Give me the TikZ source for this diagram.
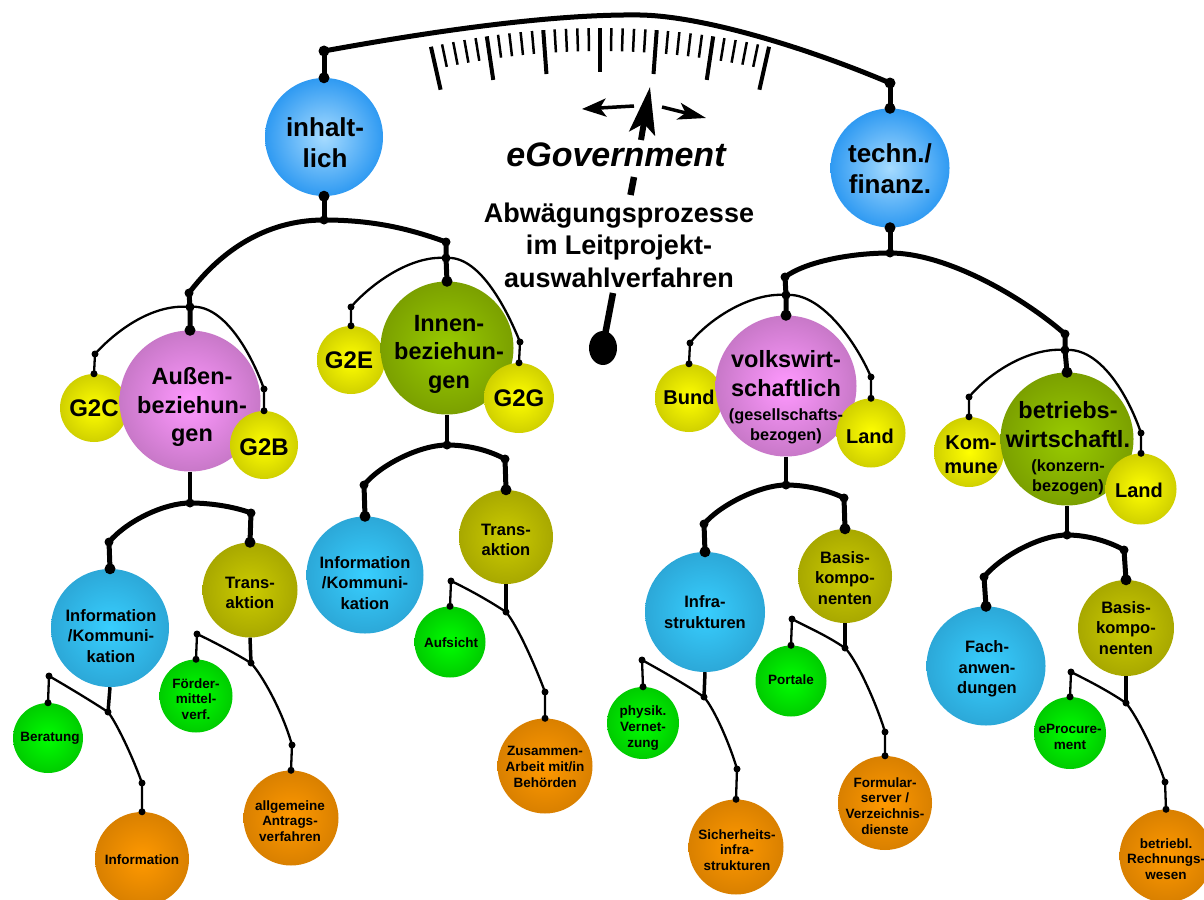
\documentclass[tikz,border=0pt]{standalone}
\usepackage{fontspec}
\setmainfont{Liberation Sans}
\usetikzlibrary{arrows.meta}
\definecolor{blueI}{HTML}{A6DBFF}
\definecolor{blueO}{HTML}{2F9AF2}
\definecolor{cyanI}{HTML}{38CFFF}
\definecolor{cyanO}{HTML}{2CA8D8}
\definecolor{pinkI}{HTML}{FF99FF}
\definecolor{pinkO}{HTML}{C878C8}
\definecolor{oliveI}{HTML}{99CC00}
\definecolor{oliveO}{HTML}{7BA000}
\definecolor{yelI}{HTML}{FFFF00}
\definecolor{yelO}{HTML}{D0D000}
\definecolor{oyI}{HTML}{CCCC00}
\definecolor{oyO}{HTML}{A8A800}
\definecolor{grnI}{HTML}{00FF00}
\definecolor{grnO}{HTML}{00CC00}
\definecolor{orI}{HTML}{FF9900}
\definecolor{orO}{HTML}{D98000}
\newcommand\fsA{\fontsize{26}{31}\selectfont}
\newcommand\fsB{\fontsize{23.5}{28.5}\selectfont}
\newcommand\fsP{\fontsize{16.3}{20}\selectfont}
\newcommand\fsG{\fontsize{24}{28}\selectfont}
\newcommand\fsS{\fontsize{20}{24}\selectfont}
\newcommand\fsC{\fontsize{16.5}{20.3}\selectfont}
\newcommand\fsD{\fontsize{13.5}{15.8}\selectfont}
\newcommand\fsT{\fontsize{27}{32.5}\selectfont}
\newcommand\fsE{\fontsize{34}{40}\selectfont}
\newcommand\DotL[1]{\foreach \p in {#1}{\fill (\p) circle[radius=5.5pt];}}
\newcommand\DotM[1]{\foreach \p in {#1}{\fill (\p) circle[radius=4.5pt];}}
\newcommand\DotS[1]{\foreach \p in {#1}{\fill (\p) circle[radius=3.5pt];}}
\begin{document}
\begin{tikzpicture}[x=1pt,y=-1pt,line join=round,
  ballb/.style={circle,inner sep=0pt,draw=none,minimum size=#1},
  cBlue/.style={shade,inner color=blueI,outer color=blueO},
  cCyan/.style={shade,inner color=cyanI,outer color=cyanO},
  cPink/.style={shade,inner color=pinkI,outer color=pinkO},
  cOlive/.style={shade,inner color=oliveI,outer color=oliveO},
  cYel/.style={shade,inner color=yelI,outer color=yelO},
  cOY/.style={shade,inner color=oyI,outer color=oyO},
  cGrn/.style={shade,inner color=grnI,outer color=grnO},
  cOr/.style={shade,inner color=orI,outer color=orO},
  wTop/.style={line width=5pt},
  wBar/.style={line width=5pt},
  wMid/.style={line width=3.5pt},
  wThin/.style={line width=2.3pt},
  tA/.style={align=center,inner sep=0pt,font=\bfseries\fsA},
  tB/.style={align=center,inner sep=0pt,font=\bfseries\fsB},
  tG/.style={align=center,inner sep=0pt,font=\bfseries\fsG},
  tS/.style={align=center,inner sep=0pt,font=\bfseries\fsS},
  tC/.style={align=center,inner sep=0pt,font=\bfseries\fsC},
  tD/.style={align=center,inner sep=0pt,font=\bfseries\fsD},
  tT/.style={align=center,inner sep=0pt,font=\bfseries\fsT},
  tE/.style={align=center,inner sep=0pt,font=\bfseries\itshape\fsE}]
\useasboundingbox (0,0) rectangle (1204,899);

% ---------- scale ----------
\foreach \i in {0,...,30}{
  \pgfmathsetmacro\ang{-12.65+0.8433*\i}
  \pgfmathtruncatemacro\md{mod(\i,5)}
  \ifnum\md=0
    \draw[line width=4pt] ({600+772*sin(\ang)},{800-772*cos(\ang)}) -- ({600+728*sin(\ang)},{800-728*cos(\ang)});
  \else
    \draw[line width=2.5pt] ({600+772*sin(\ang)},{800-772*cos(\ang)}) -- ({600+749*sin(\ang)},{800-749*cos(\ang)});
  \fi
}

% ---------- needle ----------
\coordinate (nB) at (603,348);
\coordinate (n1) at (605,335);
\coordinate (n2) at (613,293);
\coordinate (n3) at (630.5,195);
\coordinate (n4) at (634,177);
\coordinate (n5) at (641,140);
\coordinate (nTip) at (650,87);
\coordinate (arL0) at (634,106);
\coordinate (arL1) at (582,109);
\coordinate (arR0) at (662,107);
\coordinate (arR1) at (706,118);
\fill (nB) ellipse[x radius=14pt,y radius=17pt];
\draw[line width=6.5pt] (n1) -- (n2);
\draw[line width=6.5pt] (n3) -- (n4);
\draw[line width=6pt,-{Stealth[length=47pt,width=26pt,inset=10pt]}] (n5) -- (nTip);
\draw[line width=3.5pt,-{Stealth[length=24pt,width=18pt,inset=6pt]}] (arL0) -- (arL1);
\draw[line width=3.5pt,-{Stealth[length=28pt,width=17pt,inset=7pt]}] (arR0) -- (arR1);

% ---------- coordinates ----------
\coordinate (aL) at (324,51);
\coordinate (aTop) at (640,15);
\coordinate (aR) at (890,83);
\coordinate (jI) at (324,220);
\coordinate (jT) at (890,253);
\coordinate (jA1) at (189,293);
\coordinate (jA2) at (190,307);
\coordinate (g2cT) at (95,354);
\coordinate (g2bT) at (264,389);
\coordinate (jA3) at (190,503);
\coordinate (jA4) at (109,542);
\coordinate (jA5) at (251,513);
\coordinate (jA6) at (108,712);
\coordinate (beT) at (49,676);
\coordinate (ifT) at (142,783);
\coordinate (jA7) at (251,663);
\coordinate (fT) at (197,634);
\coordinate (alT) at (292,745);
\coordinate (jN1) at (446,242);
\coordinate (jN2) at (446,258);
\coordinate (g2eT) at (351,307);
\coordinate (g2gT) at (520,342);
\coordinate (jN3) at (447,445);
\coordinate (jN4) at (364,485);
\coordinate (jN5) at (505,459);
\coordinate (jN6) at (506,612);
\coordinate (auT) at (451,581);
\coordinate (zuT) at (545,692);
\coordinate (jV1) at (785,277);
\coordinate (jV2) at (786,295);
\coordinate (buT) at (690,343);
\coordinate (laT) at (871,377);
\coordinate (jV3) at (786,485);
\coordinate (jV4) at (704,524);
\coordinate (jV5) at (844,498);
\coordinate (jV6) at (704,697);
\coordinate (phT) at (642,660);
\coordinate (siT) at (737,769);
\coordinate (jV7) at (845,648);
\coordinate (poT) at (792,619);
\coordinate (foT) at (885,732);
\coordinate (jB1) at (1065,334);
\coordinate (jB2) at (1065,350);
\coordinate (koT) at (969,397);
\coordinate (l2T) at (1141,433);
\coordinate (jB3) at (1067,535);
\coordinate (jB4) at (984,577);
\coordinate (jB5) at (1124,550);
\coordinate (jB6) at (1126,703);
\coordinate (epT) at (1071,672);
\coordinate (brT) at (1165,782);

% ---------- balls ----------
\node[ballb=118pt,cBlue] (inh) at (324,137) {};
\node[ballb=119pt,cBlue] (tec) at (890,168) {};
\node[ballb=68pt,cYel] (g2c) at (94,408) {};
\node[ballb=141pt,cPink] (aus) at (190,401) {};
\node[ballb=68pt,cYel] (g2b) at (264,445) {};
\node[ballb=118pt,cCyan] (infL) at (110,628) {};
\node[ballb=95pt,cOY] (trL) at (250,590) {};
\node[ballb=70pt,cGrn] (ber) at (48,738) {};
\node[ballb=94pt,cOr] (ifo) at (142,859) {};
\node[ballb=73pt,cGrn] (foe) at (196,696) {};
\node[ballb=95pt,cOr] (alg) at (291,818) {};
\node[ballb=68pt,cYel] (g2e) at (351,360) {};
\node[ballb=133pt,cOlive] (inn) at (447,348) {};
\node[ballb=70pt,cYel] (g2g) at (519,398) {};
\node[ballb=117pt,cCyan] (infM) at (365,575) {};
\node[ballb=94pt,cOY] (trM) at (506,537) {};
\node[ballb=71pt,cGrn] (auf) at (450,642) {};
\node[ballb=95pt,cOr] (zus) at (545,766) {};
\node[ballb=68pt,cYel] (bun) at (689,398) {};
\node[ballb=141pt,cPink] (vol) at (786,386) {};
\node[ballb=69pt,cYel] (la1) at (871,433) {};
\node[ballb=120pt,cCyan] (inf) at (705,612) {};
\node[ballb=94pt,cOY] (baL) at (845,576) {};
\node[ballb=72pt,cGrn] (phy) at (643,723) {};
\node[ballb=95pt,cOr] (sic) at (736,847) {};
\node[ballb=71pt,cGrn] (por) at (791,681) {};
\node[ballb=94pt,cOr] (fmr) at (885,803) {};
\node[ballb=70pt,cYel] (kom) at (969,452) {};
\node[ballb=133pt,cOlive] (bet) at (1067,439) {};
\node[ballb=71pt,cYel] (la2) at (1141,489) {};
\node[ballb=119pt,cCyan] (fac) at (986,666) {};
\node[ballb=96pt,cOY] (baR) at (1126,628) {};
\node[ballb=72pt,cGrn] (epr) at (1070,733) {};
\node[ballb=93pt,cOr] (brw) at (1166,856) {};

% ---------- connectors ----------
\draw[wTop] (aL) .. controls (450,28) and (560,14) .. (aTop) .. controls (700,16) and (800,45) .. (aR);
\draw[wBar] (aL) -- (inh.north);
\draw[wBar] (aR) -- (tec.north);
\draw[wBar] (inh.south) -- (jI);
\draw[wBar] (tec.south) -- (jT);
\draw[wBar] (jI) .. controls (264,220) and (219,253) .. (jA1);
\draw[wBar] (jI) .. controls (374,220) and (410,229) .. (jN1);
\draw[wBar] (jT) .. controls (850,253) and (805,262) .. (jV1);
\draw[wBar] (jT) .. controls (945,253) and (1020,295) .. (jB1);
\DotL{aL,aR,inh.north,inh.south,tec.north,tec.south}
\DotM{jI,jT}

% Aussen
\draw[wBar] (jA1) -- (jA2) -- (aus.north);
\draw[wThin] (jA2) .. controls (150,303) and (112,335) .. (g2cT) -- (g2c.north);
\draw[wThin] (jA2) .. controls (222,303) and (250,350) .. (g2bT) -- (g2b.north);
\draw[wMid] (aus.south) -- (jA3);
\draw[wBar] (jA3) .. controls (165,503) and (128,520) .. (jA4) -- (infL.north);
\draw[wBar] (jA3) .. controls (215,503) and (238,508) .. (jA5) -- (trL.north);
\draw[wMid] (infL.south) -- (jA6);
\draw[wThin] (jA6) .. controls (88,699) and (68,687) .. (beT) -- (ber.north);
\draw[wThin] (jA6) .. controls (116,722) and (132,755) .. (ifT) -- (ifo.north);
\draw[wMid] (trL.south) -- (jA7);
\draw[wThin] (jA7) .. controls (233,652) and (212,641) .. (fT) -- (foe.north);
\draw[wThin] (jA7) .. controls (262,675) and (282,710) .. (alT) -- (alg.north);
\DotL{aus.north,infL.north,trL.north}
\DotM{jA1,jA2,jA3,jA4,jA5}
\DotS{g2cT,g2c.north,g2bT,g2b.north,jA6,beT,ber.north,ifT,ifo.north,jA7,fT,foe.north,alT,alg.north}

% Innen
\draw[wBar] (jN1) -- (jN2) -- (inn.north);
\draw[wThin] (jN2) .. controls (410,255) and (370,285) .. (g2eT) -- (g2e.north);
\draw[wThin] (jN2) .. controls (478,255) and (505,305) .. (g2gT) -- (g2g.north);
\draw[wMid] (inn.south) -- (jN3);
\draw[wBar] (jN3) .. controls (420,445) and (380,465) .. (jN4) -- (infM.north);
\draw[wBar] (jN3) .. controls (472,445) and (492,452) .. (jN5) -- (trM.north);
\draw[wMid] (trM.south) -- (jN6);
\draw[wThin] (jN6) .. controls (488,600) and (466,588) .. (auT) -- (auf.north);
\draw[wThin] (jN6) .. controls (517,625) and (535,665) .. (zuT) -- (zus.north);
\DotL{inn.north,infM.north,trM.north}
\DotM{jN1,jN2,jN3,jN4,jN5}
\DotS{g2eT,g2e.north,g2gT,g2g.north,jN6,auT,auf.north,zuT,zus.north}

% volkswirtschaftlich
\draw[wBar] (jV1) -- (jV2) -- (vol.north);
\draw[wThin] (jV2) .. controls (750,292) and (708,320) .. (buT) -- (bun.north);
\draw[wThin] (jV2) .. controls (820,292) and (855,340) .. (laT) -- (la1.north);
\draw[wMid] (vol.south) -- (jV3);
\draw[wBar] (jV3) .. controls (760,485) and (720,505) .. (jV4) -- (inf.north);
\draw[wBar] (jV3) .. controls (810,485) and (832,492) .. (jV5) -- (baL.north);
\draw[wMid] (inf.south) -- (jV6);
\draw[wThin] (jV6) .. controls (685,684) and (660,670) .. (phT) -- (phy.north);
\draw[wThin] (jV6) .. controls (715,710) and (730,745) .. (siT) -- (sic.north);
\draw[wMid] (baL.south) -- (jV7);
\draw[wThin] (jV7) .. controls (826,635) and (805,626) .. (poT) -- (por.north);
\draw[wThin] (jV7) .. controls (857,660) and (877,705) .. (foT) -- (fmr.north);
\DotL{vol.north,inf.north,baL.north}
\DotM{jV1,jV2,jV3,jV4,jV5}
\DotS{buT,bun.north,laT,la1.north,jV6,phT,phy.north,siT,sic.north,jV7,poT,por.north,foT,fmr.north}

% betriebswirtschaftlich
\draw[wBar] (jB1) -- (jB2) -- (bet.north);
\draw[wThin] (jB2) .. controls (1030,347) and (990,372) .. (koT) -- (kom.north);
\draw[wThin] (jB2) .. controls (1100,347) and (1128,395) .. (l2T) -- (la2.north);
\draw[wMid] (bet.south) -- (jB3);
\draw[wBar] (jB3) .. controls (1040,535) and (1000,557) .. (jB4) -- (fac.north);
\draw[wBar] (jB3) .. controls (1090,535) and (1112,543) .. (jB5) -- (baR.north);
\draw[wMid] (baR.south) -- (jB6);
\draw[wThin] (jB6) .. controls (1107,690) and (1085,679) .. (epT) -- (epr.north);
\draw[wThin] (jB6) .. controls (1137,716) and (1156,755) .. (brT) -- (brw.north);
\DotL{bet.north,fac.north,baR.north}
\DotM{jB1,jB2,jB3,jB4,jB5}
\DotS{koT,kom.north,l2T,la2.north,jB6,epT,epr.north,brT,brw.north}

% ---------- texts ----------
\node[tE] (egov) at (616,155) {eGovernment};
\node[tT] (ttl) at (619,245) {Abwägungsprozesse\\im Leitprojekt-\\auswahlverfahren};
\node[tA] (inh-t) at (325,143) {inhalt-\\lich};
\node[tA] (tec-t) at (890,169) {techn./\\finanz.};
\node[tB] (aus-t) at (192,407) {Außen-\\beziehun-\\gen};
\node[tG] (g2c-t) at (94,408) {G2C};
\node[tG] (g2b-t) at (264,447) {G2B};
\node[tB] (inn-t) at (449,354) {Innen-\\beziehun-\\gen};
\node[tG] (g2e-t) at (349,360) {G2E};
\node[tG] (g2g-t) at (519,398) {G2G};
\node[tC] (infL-t) at (111,636) {Information\\/Kommuni-\\kation};
\node[tC] (trL-t) at (250,593) {Trans-\\aktion};
\node[tD] (ber-t) at (50,738) {Beratung};
\node[tD] (ifo-t) at (142,860) {Information};
\node[tD] (foe-t) at (196,699) {Förder-\\mittel-\\verf.};
\node[tD] (alg-t) at (290,821) {allgemeine\\Antrags-\\verfahren};
\node[tC] (infM-t) at (365,583) {Information\\/Kommuni-\\kation};
\node[tC] (trM-t) at (506,540) {Trans-\\aktion};
\node[tD] (auf-t) at (451,643) {Aufsicht};
\node[tD] (zus-t) at (545,767) {Zusammen-\\Arbeit mit/in\\Behörden};
\node[tB] (vol-t) at (786,397) {volkswirt-\\schaftlich\\[-4.5pt]{\fsP(gesellschafts-}\\[-8.5pt]{\fsP bezogen)}};
\node[tS] (bun-t) at (689,397) {Bund};
\node[tS] (la1-t) at (870,436) {Land};
\node[tC] (inf-t) at (705,612) {Infra-\\strukturen};
\node[tC] (baL-t) at (845,578) {Basis-\\kompo-\\nenten};
\node[tD] (phy-t) at (643,728) {physik.\\Vernet-\\zung};
\node[tD] (sic-t) at (737,850) {Sicherheits-\\infra-\\strukturen};
\node[tD] (por-t) at (791,680) {Portale};
\node[tD] (fmr-t) at (885,806) {Formular-\\server /\\Verzeichnis-\\dienste};
\node[tB] (bet-t) at (1068,448) {betriebs-\\wirtschaftl.\\[-4.5pt]{\fsP(konzern-}\\[-8.5pt]{\fsP bezogen)}};
\node[tS] (kom-t) at (971,455) {Kom-\\mune};
\node[tS] (la2-t) at (1139,490) {Land};
\node[tC] (fac-t) at (987,669) {Fach-\\anwen-\\dungen};
\node[tC] (baR-t) at (1126,628) {Basis-\\kompo-\\nenten};
\node[tD] (epr-t) at (1070,737) {eProcure-\\ment};
\node[tD] (brw-t) at (1166,859) {betriebl.\\Rechnungs-\\wesen};
\end{tikzpicture}
\end{document}
